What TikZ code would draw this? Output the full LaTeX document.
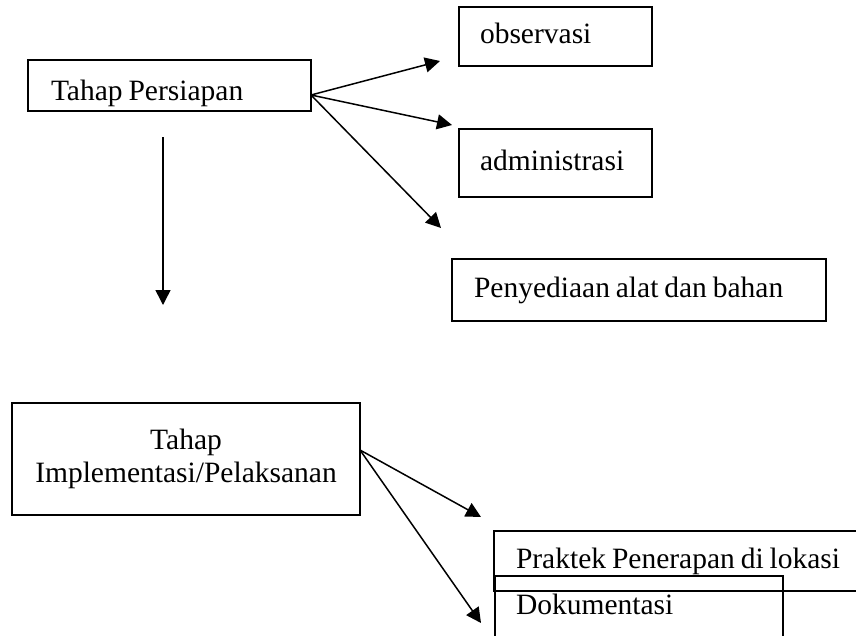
\documentclass[tikz,border=0pt]{standalone}
\usepackage{fontspec}
\setmainfont{Liberation Serif}
\usetikzlibrary{arrows.meta}
\begin{document}
\begin{tikzpicture}[x=1pt,y=-1pt,
  every node/.style={font=\fontsize{29.5}{33}\selectfont, execute at begin node={\spaceskip=0.2em\relax}},
  boxnode/.style={draw=black, line width=1.8pt, rectangle, inner ysep=0pt,
    text height=20pt, text depth=6pt, align=left},
  arr/.style={line width=1.5pt, -{Triangle[length=15pt,width=15pt]}}]
\useasboundingbox (0,0) rectangle (856,635);
\clip (0,0) rectangle (856,635);
% top group
\node[boxnode, minimum width=283pt, minimum height=51pt, text width=237pt, inner xsep=23pt,
      text height=35pt] (tp) at (169.5,85.5) {Tahap Persiapan};
\node[boxnode, minimum width=193pt, minimum height=59pt, text width=151pt, inner xsep=21pt] (obs) at (555.5,36.5) {observasi};
\node[boxnode, minimum width=193pt, minimum height=68pt, text width=151pt, inner xsep=21pt] (adm) at (555.5,163) {administrasi};
\node[boxnode, minimum width=374pt, minimum height=62pt, text width=330pt, inner xsep=22pt] (pab) at (639,290) {Penyediaan alat dan bahan};
\coordinate (tpout) at (311,95);
\coordinate (obsin) at (440,61);
\coordinate (admin) at (452,125);
\coordinate (pabin) at (441,228);
\draw[arr] (tpout) -- (obsin);
\draw[arr] (tpout) -- (admin);
\draw[arr] (tpout) -- (pabin);
% vertical arrow
\coordinate (vtop) at (163,137);
\coordinate (vbot) at (163,305);
\draw[arr] (vtop) -- (vbot);
% bottom group
\node[draw=black, line width=1.8pt, rectangle, minimum width=348pt, minimum height=112pt, align=center] (impl) at (186,459) {Tahap\\Implementasi/Pelaksanan};
\node[boxnode, minimum width=400pt, minimum height=60pt, text width=356pt, inner xsep=22pt] (prak) at (694,561) {Praktek Penerapan di lokasi};
\node[boxnode, minimum width=288pt, minimum height=62pt, text width=246pt, inner xsep=21pt] (dok) at (639,607) {Dokumentasi};
\coordinate (implout) at (360,450);
\coordinate (prakin) at (481,517);
\coordinate (dokin) at (481,623);
\draw[arr] (implout) -- (prakin);
\draw[arr] (implout) -- (dokin);
\end{tikzpicture}
\end{document}
